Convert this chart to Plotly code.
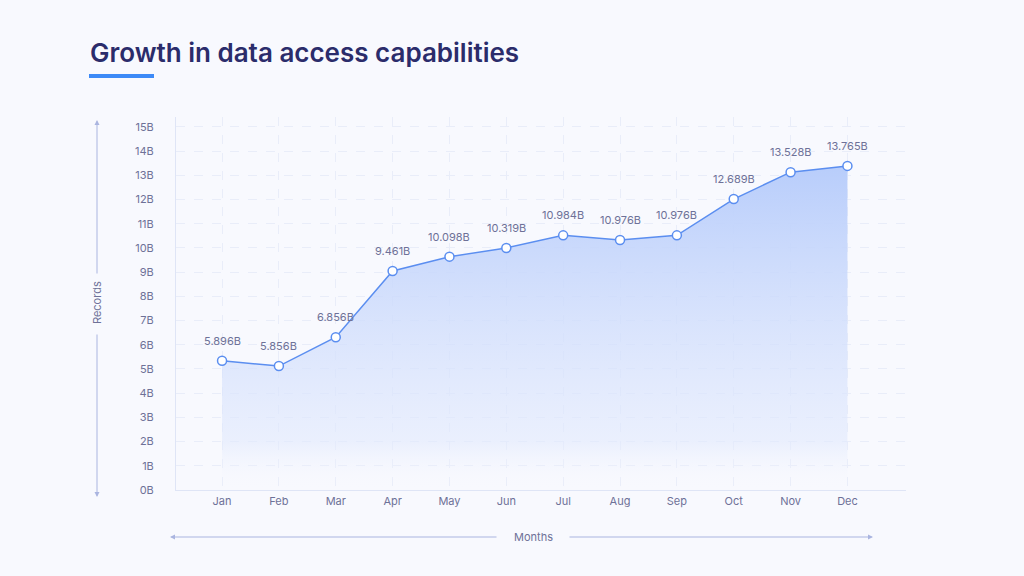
import plotly.graph_objects as go

months = ["Jan", "Feb", "Mar", "Apr", "May", "Jun", "Jul", "Aug", "Sep", "Oct", "Nov", "Dec"]
records_b = [5.34, 5.12, 6.31, 9.05, 9.64, 10.0, 10.52, 10.33, 10.52, 12.02, 13.13, 13.39]
value_labels = ["5.896B", "5.856B", "6.856B", "9.461B", "10.098B", "10.319B",
                "10.984B", "10.976B", "10.976B", "12.689B", "13.528B", "13.765B"]
y_ticks = list(range(0, 16))
y_tick_text = [f"{v}B" for v in y_ticks]

BG = "#f8f9fe"
LINE = "#5b8ef0"
TXT = "#6e7198"
GRID = "#e9edf9"
FONT = "Inter, Lato, sans-serif"

fig = go.Figure()
fig.add_trace(go.Scatter(
    x=list(range(len(months))), y=records_b,
    mode="lines+markers",
    line=dict(color=LINE, width=1.5),
    marker=dict(size=9, color="white", line=dict(color=LINE, width=1.5)),
    fill="tozeroy",
    fillgradient=dict(type="vertical",
                      colorscale=[[0, "rgba(248,249,254,0)"], [0.15, "rgba(225,233,253,0.6)"],
                                  [1, "rgba(184,205,251,1)"]]),
    hoverinfo="skip",
    cliponaxis=False,
))

for i, (v, lab) in enumerate(zip(records_b, value_labels)):
    fig.add_annotation(x=i, y=v, text=lab, showarrow=False, yshift=20,
                       font=dict(size=11, color=TXT, family=FONT))

fig.update_layout(
    width=1024, height=576,
    paper_bgcolor=BG, plot_bgcolor=BG,
    margin=dict(l=176, r=118, t=117, b=86),
    showlegend=False,
    font=dict(family=FONT, color=TXT),
    xaxis=dict(
        range=[-0.81, 12.03],
        tickvals=list(range(len(months))), ticktext=months,
        showgrid=True, gridcolor=GRID, griddash="dash", gridwidth=1,
        showline=True, linecolor="#dfe5f6", linewidth=1,
        zeroline=False, ticks="", ticklabelstandoff=1,
        tickfont=dict(size=11, color=TXT, family=FONT),
        fixedrange=True,
    ),
    yaxis=dict(
        range=[0, 15.41],
        tickvals=y_ticks, ticktext=y_tick_text,
        showgrid=True, gridcolor=GRID, griddash="dash", gridwidth=1,
        showline=True, linecolor="#dfe5f6", linewidth=1,
        zeroline=False, ticks="", ticklabelstandoff=19,
        tickfont=dict(size=11, color=TXT, family=FONT),
        fixedrange=True,
    ),
)

# Title and underline
fig.add_annotation(xref="paper", yref="paper", x=(88 - 176) / 730, y=(490 - 52) / 373,
                   xanchor="left", yanchor="middle", showarrow=False,
                   text="Growth in data access capabilities",
                   font=dict(size=26, color="#2b2c6b", family=FONT, weight=600))
fig.add_shape(type="rect", xref="paper", yref="paper",
              x0=(89 - 176) / 730, x1=(154 - 176) / 730,
              y0=(490 - 78) / 373, y1=(490 - 74) / 373,
              fillcolor="#3d8af7", line=dict(width=0))

AX = "#aab5e0"
# Y axis title with arrows
fig.add_annotation(xref="paper", yref="paper", x=(97 - 176) / 730, y=(490 - 303) / 373,
                   xanchor="center", yanchor="middle",
                   text="Records", textangle=-90, showarrow=False,
                   font=dict(size=11, color=TXT, family=FONT))
fig.add_annotation(xref="paper", yref="paper", x=(97 - 176) / 730, y=(490 - 120) / 373,
                   ax=0, ay=155, text="", showarrow=True, arrowhead=2, arrowsize=1,
                   arrowwidth=1, arrowcolor=AX)
fig.add_annotation(xref="paper", yref="paper", x=(97 - 176) / 730, y=(490 - 497) / 373,
                   ax=0, ay=-164, text="", showarrow=True, arrowhead=2, arrowsize=1,
                   arrowwidth=1, arrowcolor=AX)
# X axis title with arrows
fig.add_annotation(xref="paper", yref="paper", x=(533 - 176) / 730, y=(490 - 537) / 373,
                   xanchor="center", yanchor="middle",
                   text="Months", showarrow=False,
                   font=dict(size=11, color=TXT, family=FONT))
fig.add_annotation(xref="paper", yref="paper", x=(170 - 176) / 730, y=(490 - 537) / 373,
                   ax=328, ay=0, text="", showarrow=True, arrowhead=2, arrowsize=1,
                   arrowwidth=1, arrowcolor=AX)
fig.add_annotation(xref="paper", yref="paper", x=(873 - 176) / 730, y=(490 - 537) / 373,
                   ax=-305, ay=0, text="", showarrow=True, arrowhead=2, arrowsize=1,
                   arrowwidth=1, arrowcolor=AX)

fig.write_html("out.html")
